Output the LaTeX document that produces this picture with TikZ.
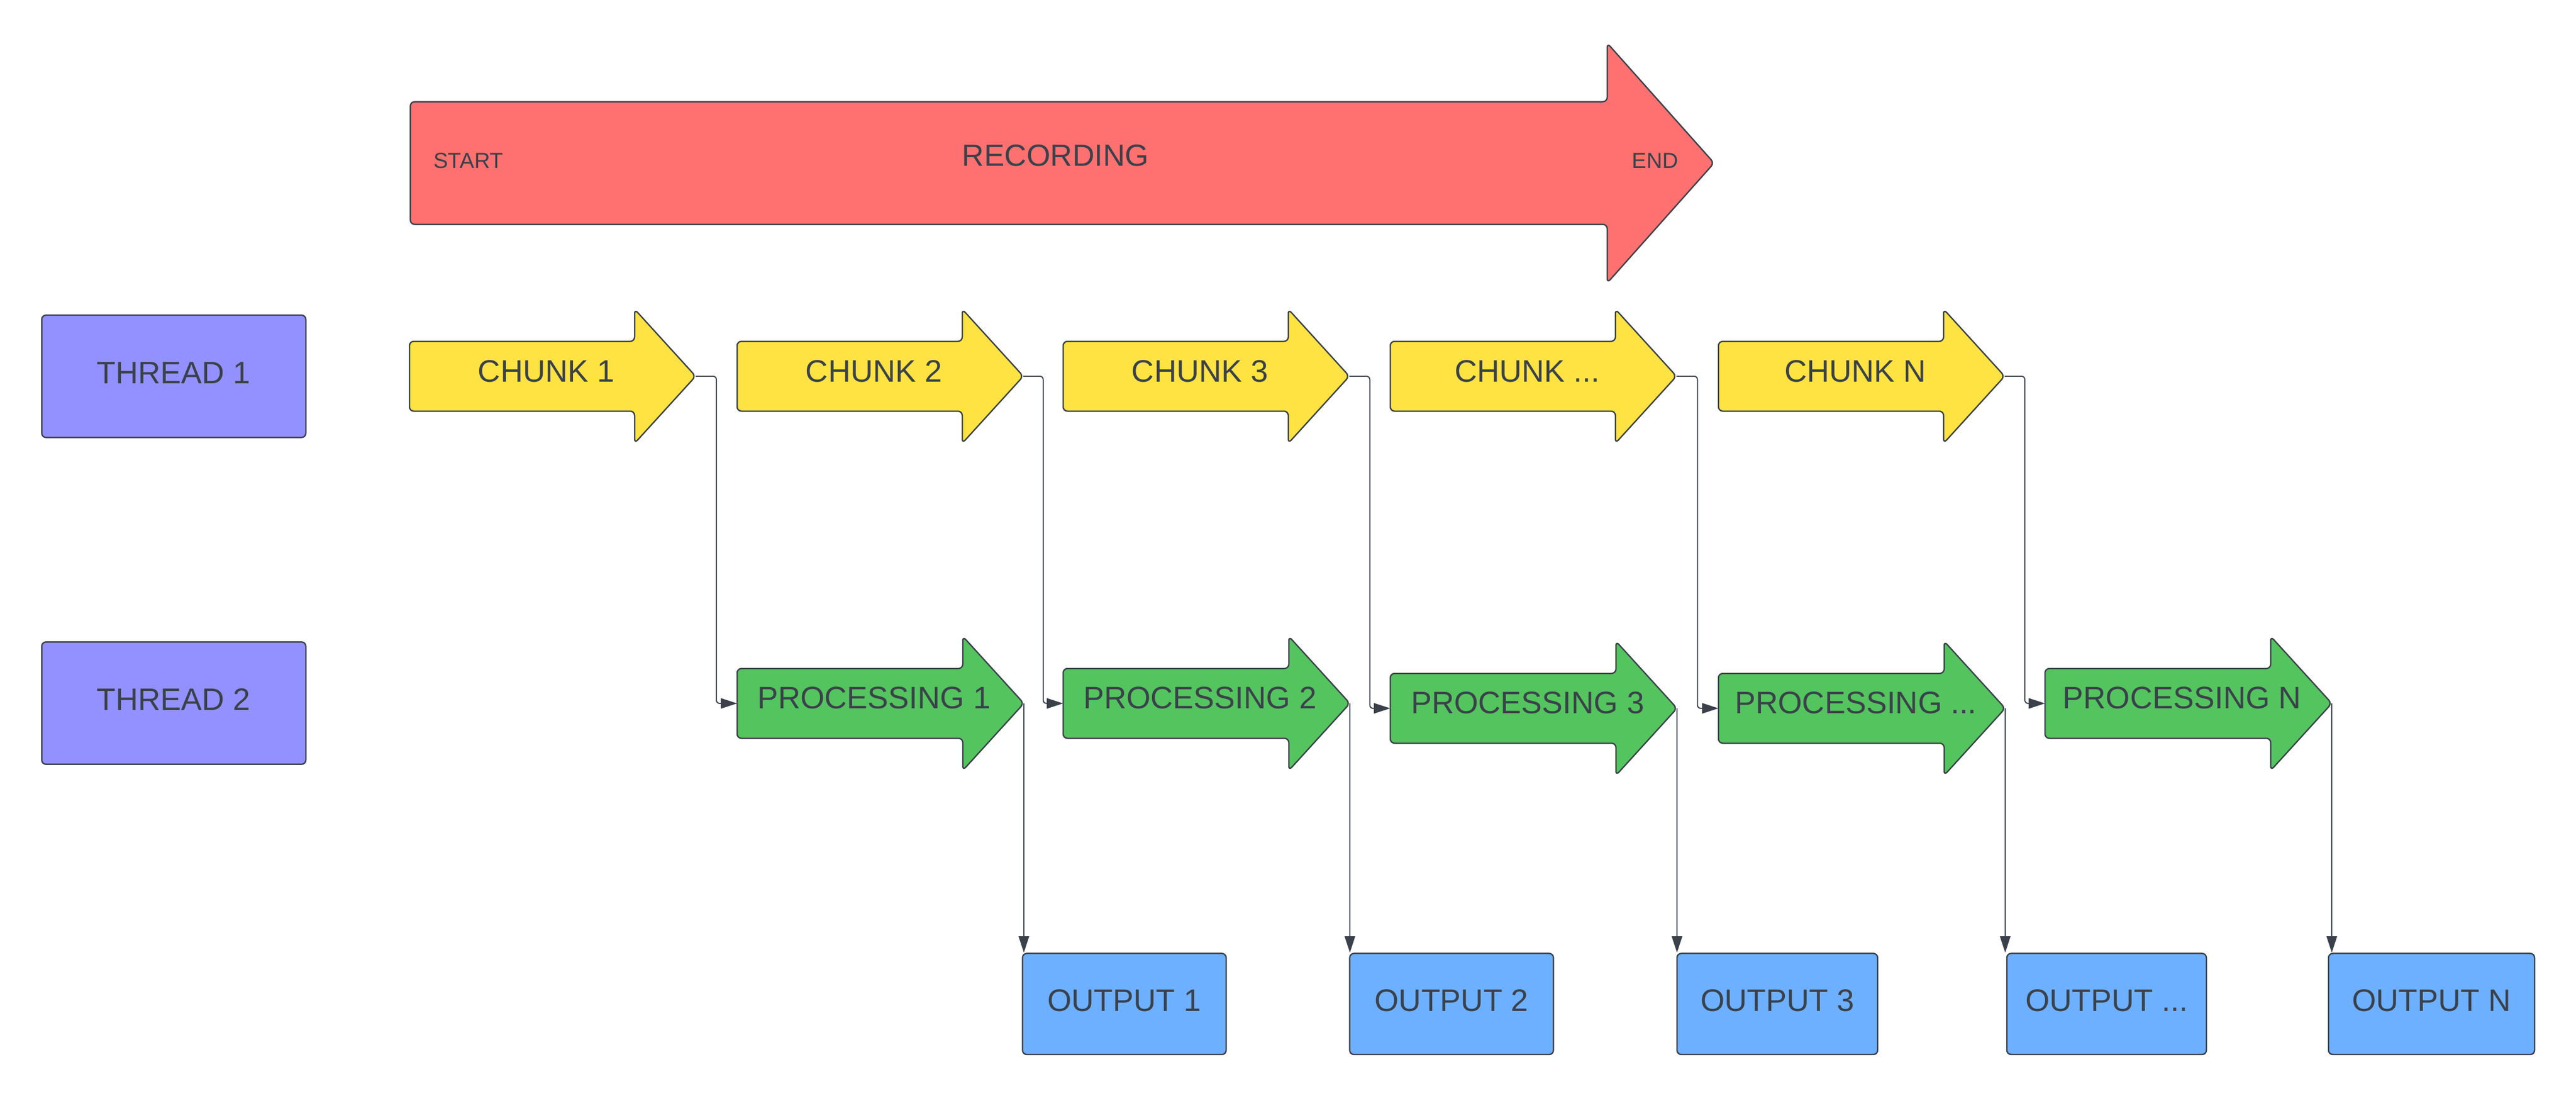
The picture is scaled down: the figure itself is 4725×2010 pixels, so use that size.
\documentclass[tikz,border=0pt]{standalone}
\usepackage{fontspec}
\setmainfont{Liberation Sans}
\usetikzlibrary{arrows.meta,calc}
\definecolor{ink}{HTML}{3A414A}
\definecolor{redf}{HTML}{FF7171}
\definecolor{yelf}{HTML}{FFE342}
\definecolor{grnf}{HTML}{54C45E}
\definecolor{purf}{HTML}{9391FF}
\definecolor{bluf}{HTML}{6DB0FF}
\tikzset{
  shapeline/.style={draw=ink, line width=2.5pt, rounded corners=8pt, line join=round},
  conn/.style={draw=ink, line width=2pt, rounded corners=6pt, -{Triangle[length=30pt,width=19pt]}},
  lbl/.style={text=ink, inner sep=0pt, font=\fontsize{57pt}{60pt}\selectfont},
  small/.style={text=ink, inner sep=0pt, font=\fontsize{40pt}{44pt}\selectfont},
  boxnode/.style={draw=ink, line width=2.5pt, rounded corners=8pt, inner sep=0pt,
    text=ink, font=\fontsize{57pt}{60pt}\selectfont, text height=40.8pt, text depth=14pt,
    minimum height=185.5pt},
  threadbox/.style={boxnode, fill=purf, minimum width=484.5pt, minimum height=224.4pt},
  outbox/.style={boxnode, fill=bluf}
}
% name, fill, xleft, ymid, bodyhalf, headhalf, headback offset, tip offset
\newcommand\harrow[8]{%
  \draw[shapeline, fill=#2] (#3,#4-#5) -- (#3+#7,#4-#5) -- (#3+#7,#4-#6) -- (#3+#8,#4)
    -- (#3+#7,#4+#6) -- (#3+#7,#4+#5) -- (#3,#4+#5) -- cycle;
  \coordinate (#1-tip) at (#3+#8,#4);
  \coordinate (#1-w) at (#3,#4);
}
\begin{document}
\begin{tikzpicture}[x=1pt,y=-1pt]
\useasboundingbox (0,0) rectangle (4725,2010);

% recording arrow
\harrow{rec}{redf}{752.6}{299}{112.5}{220}{2195.4}{2391.4}
\node[small] (start) at (859,295) {START};
\node[lbl, font=\fontsize{56pt}{60pt}\selectfont] (recording) at (1936,285) {RECORDING};
\node[small] (end) at (3036,295) {END};

% threads
\node[threadbox] (t1) at (318.75,690.1) {THREAD 1};
\node[threadbox] (t2) at (318.75,1289.5) {THREAD 2};

% chunks
\harrow{c1}{yelf}{751}{690}{64}{123}{413}{525}
\harrow{c2}{yelf}{1352}{690}{64}{123}{413}{525}
\harrow{c3}{yelf}{1950}{690}{64}{123}{413}{525}
\harrow{c4}{yelf}{2550}{690}{64}{123}{413}{525}
\harrow{c5}{yelf}{3152}{690}{64}{123}{413}{525}
\node[lbl] (c1t) at (1002,681) {CHUNK 1};
\node[lbl] (c2t) at (1603,681) {CHUNK 2};
\node[lbl] (c3t) at (2201,681) {CHUNK 3};
\node[lbl] (c4t) at (2801,681) {CHUNK ...};
\node[lbl] (c5t) at (3403,681) {CHUNK N};

% processing
\harrow{p1}{grnf}{1352}{1290}{64}{123}{414}{526}
\harrow{p2}{grnf}{1950}{1290}{64}{123}{414}{526}
\harrow{p3}{grnf}{2550}{1299}{64}{123}{414}{526}
\harrow{p4}{grnf}{3152}{1299}{64}{123}{414}{526}
\harrow{p5}{grnf}{3751}{1290}{64}{123}{414}{526}
\node[lbl] (p1t) at (1603,1280) {PROCESSING 1};
\node[lbl] (p2t) at (2201,1280) {PROCESSING 2};
\node[lbl] (p3t) at (2802,1289) {PROCESSING 3};
\node[lbl] (p4t) at (3404,1289) {PROCESSING ...};
\node[lbl] (p5t) at (4002,1280) {PROCESSING N};

% outputs
\node[outbox, minimum width=373.5pt] (o1) at (2062.25,1841.2) {OUTPUT 1};
\node[outbox, minimum width=373.7pt] (o2) at (2662.5,1841.2) {OUTPUT 2};
\node[outbox, minimum width=368pt] (o3) at (3260,1841.2) {OUTPUT 3};
\node[outbox, minimum width=366pt] (o4) at (3864,1841.2) {OUTPUT ...};
\node[outbox, minimum width=378pt] (o5) at (4460,1841.2) {OUTPUT N};

% chunk -> processing connectors
\foreach \i in {1,...,5}{
  \draw[conn] (c\i-tip) -| ($(c\i-tip)!0.5!(p\i-w)$) |- (p\i-w);
}
% processing -> output connectors
\foreach \i in {1,...,5}{
  \draw[conn] (p\i-tip) -- (p\i-tip |- o\i.north);
}
\end{tikzpicture}
\end{document}
